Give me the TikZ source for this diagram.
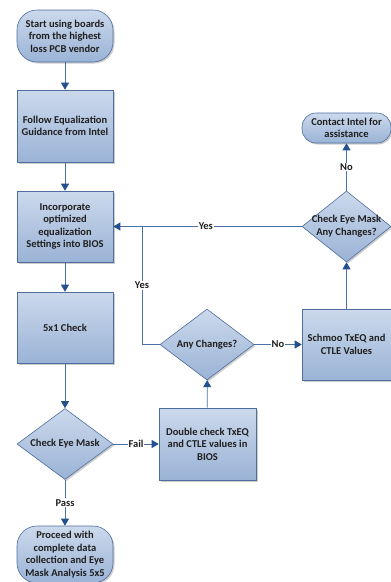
\documentclass[tikz,border=0pt]{standalone}
\usepackage{fontspec}
\setmainfont{Carlito}
\usepackage{tikz}
\usepackage{xcolor}
\usetikzlibrary{arrows.meta,shapes.geometric,shadows}

\definecolor{boxtop}{HTML}{CCD9EC}
\definecolor{boxbot}{HTML}{9AB3D6}
\definecolor{boxline}{HTML}{4F6E9E}
\definecolor{wire}{HTML}{4A70AA}
\definecolor{tip}{HTML}{24508E}

\begin{document}
\begin{tikzpicture}[
          x=1pt, y=-1pt,
          every node/.style={font=\bfseries\fontsize{10.5}{12.6}\selectfont, text=black!88},
          base/.style={draw=boxline, line width=0.6pt, top color=boxtop, bottom color=boxbot,
                       drop shadow={shadow xshift=1.5pt, shadow yshift=-1.5pt, opacity=0.4}},
          term/.style={base, rounded corners=20pt, minimum width=96pt, align=center, inner sep=1pt},
          proc/.style={base, minimum width=96pt, minimum height=72pt, align=center, inner sep=0pt},
          dec/.style={base, diamond, minimum width=96pt, minimum height=71pt, inner sep=0pt},
          lbl/.style={align=center},
          tag/.style={fill=white, inner sep=1pt},
          flow/.style={draw=wire, line width=0.8pt, -{Triangle[length=7pt, width=8pt, fill=tip, color=tip]}}
      ]
        \useasboundingbox (0,0) rectangle (391,582);

        % main column
        \node[term, minimum height=52pt] (start) at (65,36) {Start using boards\\from the highest\\loss PCB vendor};
        \node[proc] (guide) at (65,126) {Follow Equalization\\Guidance from Intel};
        \node[proc, minimum height=71pt] (bios) at (65,226.5) {Incorporate\\optimized\\equalization\\Settings into BIOS};
        \node[proc, minimum height=71pt] (check) at (65,327.5) {5x1 Check};
        \node[dec] (eye) at (65,444) {};
        \node[lbl] (eyetxt) at (eye) {Check Eye Mask};
        \node[term, minimum height=57pt] (done) at (65,554.5) {Proceed with\\complete data\\collection and Eye\\Mask Analysis 5x5};

        % middle column
        \node[proc, minimum width=97pt, minimum height=72pt] (dbl) at (207.5,444) {Double check TxEQ\\and CTLE values in\\BIOS};
        \node[dec, minimum width=94pt] (any) at (207,344.5) {};
        \node[lbl] (anytxt) at (any) {Any Changes?};

        % right column
        \node[proc, minimum width=89pt, minimum height=71pt] (schmoo) at (346.5,344.5) {Schmoo TxEQ and\\CTLE Values};
        \node[dec, minimum width=89pt] (eye2) at (346.5,226.5) {};
        \node[lbl] (eye2txt) at (eye2) {Check Eye Mask\\Any Changes?};
        \node[term, rounded corners=14pt, minimum width=89pt, minimum height=30pt] (intel) at (346.5,128) {Contact Intel for\\assistance};

        \coordinate (bend) at (142,344.5);
        \coordinate (join) at (142,226.5);

        \draw[flow] (start) -- (guide);
        \draw[flow] (guide) -- (bios);
        \draw[flow] (bios) -- (check);
        \draw[flow] (check) -- (eye);
        \draw[flow] (eye) -- node[tag] (pass) {Pass} (done);
        \draw[flow] (eye) -- node[tag] (fail) {Fail} (dbl);
        \draw[flow] (dbl) -- (any);
        \draw[flow] (any) -- node[tag] (no1) {No} (schmoo);
        \draw[flow] (schmoo) -- (eye2);
        \draw[flow] (eye2) -- node[tag] (no2) {No} (intel);
        \draw[draw=wire, line width=0.8pt] (eye2) -- node[tag, pos=0.6] (yes2) {Yes} (join);
        \draw[flow] (any) -- (bend) -- node[tag] (yes1) {Yes} (join) -- (bios);
      \end{tikzpicture}
\end{document}
